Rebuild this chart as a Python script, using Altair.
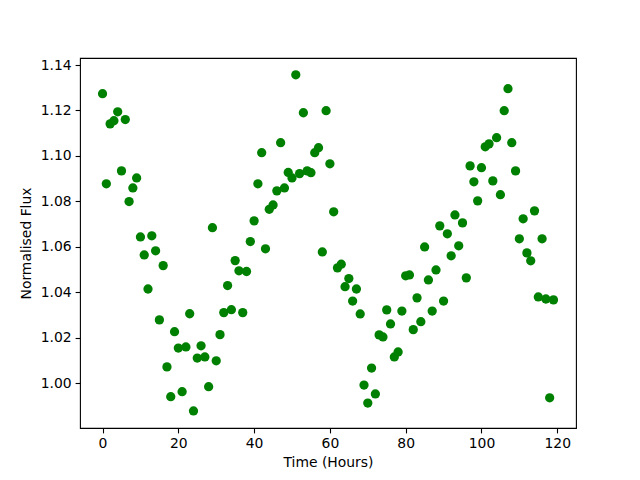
import altair as alt
import pandas as pd

hours = list(range(120))
flux = [
    1.1274, 1.0877, 1.1141, 1.1155, 1.1194, 1.0934, 1.1160, 1.0799, 1.0859, 1.0903,
    1.0643, 1.0564, 1.0414, 1.0648, 1.0582, 1.0278, 1.0517, 1.0071, 0.9940, 1.0226,
    1.0154, 0.9962, 1.0159, 1.0305, 0.9877, 1.0110, 1.0164, 1.0115, 0.9984, 1.0684,
    1.0098, 1.0213, 1.0310, 1.0429, 1.0323, 1.0539, 1.0494, 1.0310, 1.0491, 1.0623,
    1.0714, 1.0877, 1.1014, 1.0591, 1.0765, 1.0784, 1.0846, 1.1058, 1.0859, 1.0927,
    1.0903, 1.1357, 1.0922, 1.1190, 1.0934, 1.0926, 1.1014, 1.1036, 1.0577, 1.1199,
    1.0965, 1.0754, 1.0507, 1.0523, 1.0424, 1.0460, 1.0361, 1.0414, 1.0304, 0.9991,
    0.9912, 1.0066, 0.9952, 1.0212, 1.0203, 1.0322, 1.0260, 1.0115, 1.0137, 1.0317,
    1.0472, 1.0476, 1.0235, 1.0375, 1.0270, 1.0599, 1.0454, 1.0317, 1.0498, 1.0692,
    1.0361, 1.0657, 1.0560, 1.0740, 1.0604, 1.0705, 1.0463, 1.0956, 1.0886, 1.0802,
    1.0948, 1.1040, 1.1053, 1.0890, 1.1080, 1.0829, 1.1199, 1.1296, 1.1058, 1.0934,
    1.0635, 1.0723, 1.0573, 1.0538, 1.0758, 1.0379, 1.0635, 1.0370, 0.9935, 1.0366,
]
x_ticks = [0, 20, 40, 60, 80, 100, 120]
y_ticks = [1.00, 1.02, 1.04, 1.06, 1.08, 1.10, 1.12, 1.14]

df = pd.DataFrame({"t": hours, "f": flux})

FONT = "DejaVu Sans"
FS = 13.9

chart = (
    alt.Chart(df)
    .mark_circle(color="#008000", opacity=1, size=86)
    .encode(
        x=alt.X(
            "t:Q",
            title="Time (Hours)",
            scale=alt.Scale(domain=[-5.95, 124.95], nice=False, zero=False),
            axis=alt.Axis(values=x_ticks, format="d", titlePadding=5),
        ),
        y=alt.Y(
            "f:Q",
            title="Normalised Flux",
            scale=alt.Scale(domain=[0.9802, 1.1431], nice=False, zero=False),
            axis=alt.Axis(values=y_ticks, format=".2f", titlePadding=7),
        ),
    )
    .properties(
        width=496,
        height=370,
        autosize=alt.AutoSizeParams(type="none"),
        padding={"left": 72, "top": 50, "right": 56, "bottom": 45},
    )
    .configure_view(stroke="black", strokeWidth=1.1)
    .configure_axis(
        grid=False,
        domain=False,
        ticks=True,
        tickColor="black",
        tickSize=4.9,
        tickWidth=1.1,
        labelFont=FONT,
        labelFontSize=FS,
        labelColor="black",
        labelPadding=4,
        titleFont=FONT,
        titleFontSize=FS,
        titleFontWeight="normal",
        titleColor="black",
    )
)

chart.save("out.html", embed_options={"renderer": "svg", "actions": False})
